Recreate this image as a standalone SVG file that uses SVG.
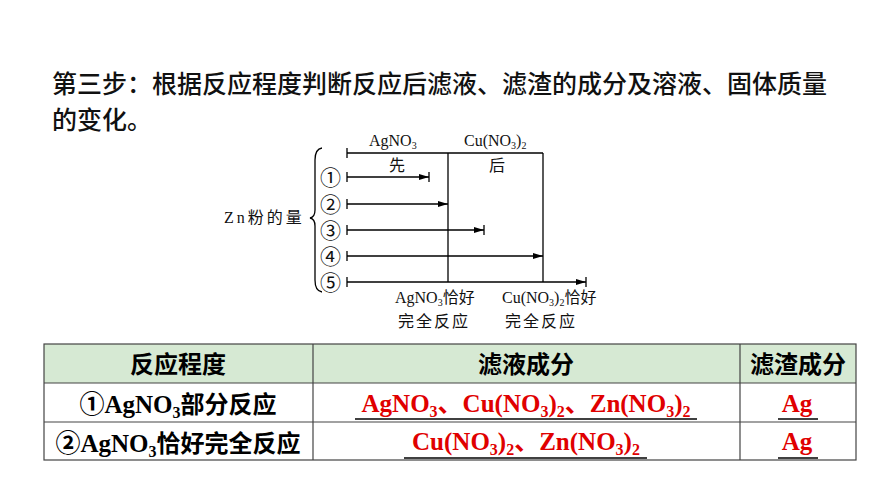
<svg xmlns="http://www.w3.org/2000/svg" width="870" height="489" viewBox="0 0 870 489">
<defs>
<marker id="ar" markerWidth="10" markerHeight="6" refX="10" refY="3" orient="auto" markerUnits="userSpaceOnUse"><path d="M0,0 L10,3 L0,6 z" fill="#000"/></marker>
</defs>
<style>
.t{font-family:"Noto Sans CJK SC",sans-serif;font-size:25px;fill:#111;font-weight:500}
.d{font-family:"Liberation Serif","Noto Sans CJK SC",serif;font-size:16px;fill:#111}
.n{font-family:"Noto Sans CJK SC",sans-serif;font-size:21px;fill:#111}
.ln{stroke:#000;stroke-width:1.3;fill:none}
.h{font-family:"Noto Sans CJK SC",sans-serif;font-size:24px;fill:#000;text-anchor:middle;font-weight:bold}
.c{font-family:"Liberation Serif","Noto Sans CJK SC",serif;font-weight:bold;font-size:25px;text-anchor:middle}
.r{fill:#e00000}
.u{stroke:#000;stroke-width:1.5}
</style>
<rect width="870" height="489" fill="#fff"/>
<text class="t" x="52" y="93">第三步：根据反应程度判断反应后滤液、滤渣的成分及溶液、固体质量</text>
<text class="t" x="52" y="129">的变化。</text>
<g id="chart">
<text class="d" x="369" y="146">AgNO<tspan font-size="10" dy="3">3</tspan></text>
<text class="d" x="464" y="146">Cu(NO<tspan font-size="10" dy="3">3</tspan><tspan dy="-3">)</tspan><tspan font-size="10" dy="3">2</tspan></text>
<text class="d" x="389" y="171">先</text>
<text class="d" x="489" y="171">后</text>
<text class="d" x="224" y="223" letter-spacing="3">Zn粉的量</text>
<path class="ln" d="M322,148 Q315,149 315,160 L315,210 Q315,217 310,218 Q315,219 315,226 L315,280 Q315,291 322,292"/>
<g id="connectors">
<line class="ln" x1="347" y1="153" x2="543" y2="153"/>
<line class="ln" x1="347" y1="148" x2="347" y2="158"/>
<line class="ln" x1="448" y1="153" x2="448" y2="282"/>
<line class="ln" x1="543" y1="153" x2="543" y2="282"/>
<line class="ln" x1="347" y1="177" x2="429" y2="177" marker-end="url(#ar)"/>
<line class="ln" x1="429" y1="172" x2="429" y2="182"/>
<line class="ln" x1="347" y1="204" x2="448" y2="204" marker-end="url(#ar)"/>
<line class="ln" x1="347" y1="230" x2="484" y2="230" marker-end="url(#ar)"/>
<line class="ln" x1="484" y1="225" x2="484" y2="235"/>
<line class="ln" x1="347" y1="256" x2="543" y2="256" marker-end="url(#ar)"/>
<line class="ln" x1="347" y1="282" x2="586" y2="282" marker-end="url(#ar)"/>
<line class="ln" x1="586" y1="277" x2="586" y2="287"/>
<line class="ln" x1="347" y1="172" x2="347" y2="182"/>
<line class="ln" x1="347" y1="199" x2="347" y2="209"/>
<line class="ln" x1="347" y1="225" x2="347" y2="235"/>
<line class="ln" x1="347" y1="251" x2="347" y2="261"/>
<line class="ln" x1="347" y1="277" x2="347" y2="287"/>
</g>
<text class="n" x="320" y="185">①</text>
<text class="n" x="320" y="212">②</text>
<text class="n" x="320" y="238">③</text>
<text class="n" x="320" y="264">④</text>
<text class="n" x="320" y="290">⑤</text>
<text class="d" x="395" y="303">AgNO<tspan font-size="10" dy="3">3</tspan><tspan dy="-3">恰好</tspan></text>
<text class="d" x="398" y="327" letter-spacing="2">完全反应</text>
<text class="d" x="502" y="303">Cu(NO<tspan font-size="10" dy="3">3</tspan><tspan dy="-3">)</tspan><tspan font-size="10" dy="3">2</tspan><tspan dy="-3">恰好</tspan></text>
<text class="d" x="505" y="327" letter-spacing="2">完全反应</text>
</g>
<g id="table">
<rect x="44" y="344" width="812" height="39" fill="#d6e9d3"/>
<g stroke="#444" stroke-width="1.2" fill="none">
<rect x="44" y="344" width="812" height="116"/>
<line x1="44" y1="383" x2="856" y2="383"/>
<line x1="44" y1="422" x2="856" y2="422"/>
<line x1="313" y1="344" x2="313" y2="460"/>
<line x1="740" y1="344" x2="740" y2="460"/>
</g>
<text class="h" x="178" y="373">反应程度</text>
<text class="h" x="526" y="373">滤液成分</text>
<text class="h" x="798" y="373">滤渣成分</text>
<text class="c" x="178" y="413">①AgNO<tspan font-size="16" dy="5">3</tspan><tspan dy="-5" font-family="Noto Sans CJK SC" font-size="24">部分反应</tspan></text>
<text class="c" x="178" y="452">②AgNO<tspan font-size="16" dy="5">3</tspan><tspan dy="-5" font-family="Noto Sans CJK SC" font-size="24">恰好完全反应</tspan></text>
<text class="c r" x="526" y="412">AgNO<tspan font-size="16" dy="5">3</tspan><tspan dy="-5">、Cu(NO</tspan><tspan font-size="16" dy="5">3</tspan><tspan dy="-5">)</tspan><tspan font-size="16" dy="5">2</tspan><tspan dy="-5">、Zn(NO</tspan><tspan font-size="16" dy="5">3</tspan><tspan dy="-5">)</tspan><tspan font-size="16" dy="5">2</tspan></text>
<text class="c r" x="526" y="450">Cu(NO<tspan font-size="16" dy="5">3</tspan><tspan dy="-5">)</tspan><tspan font-size="16" dy="5">2</tspan><tspan dy="-5">、Zn(NO</tspan><tspan font-size="16" dy="5">3</tspan><tspan dy="-5">)</tspan><tspan font-size="16" dy="5">2</tspan></text>
<text class="c r" x="797" y="412">Ag</text>
<text class="c r" x="797" y="450">Ag</text>
<line class="u" x1="355" y1="419" x2="697" y2="419"/>
<line class="u" x1="404" y1="458" x2="647" y2="458"/>
<line class="u" x1="778" y1="419" x2="818" y2="419"/>
<line class="u" x1="778" y1="458" x2="818" y2="458"/>
</g>
</svg>
